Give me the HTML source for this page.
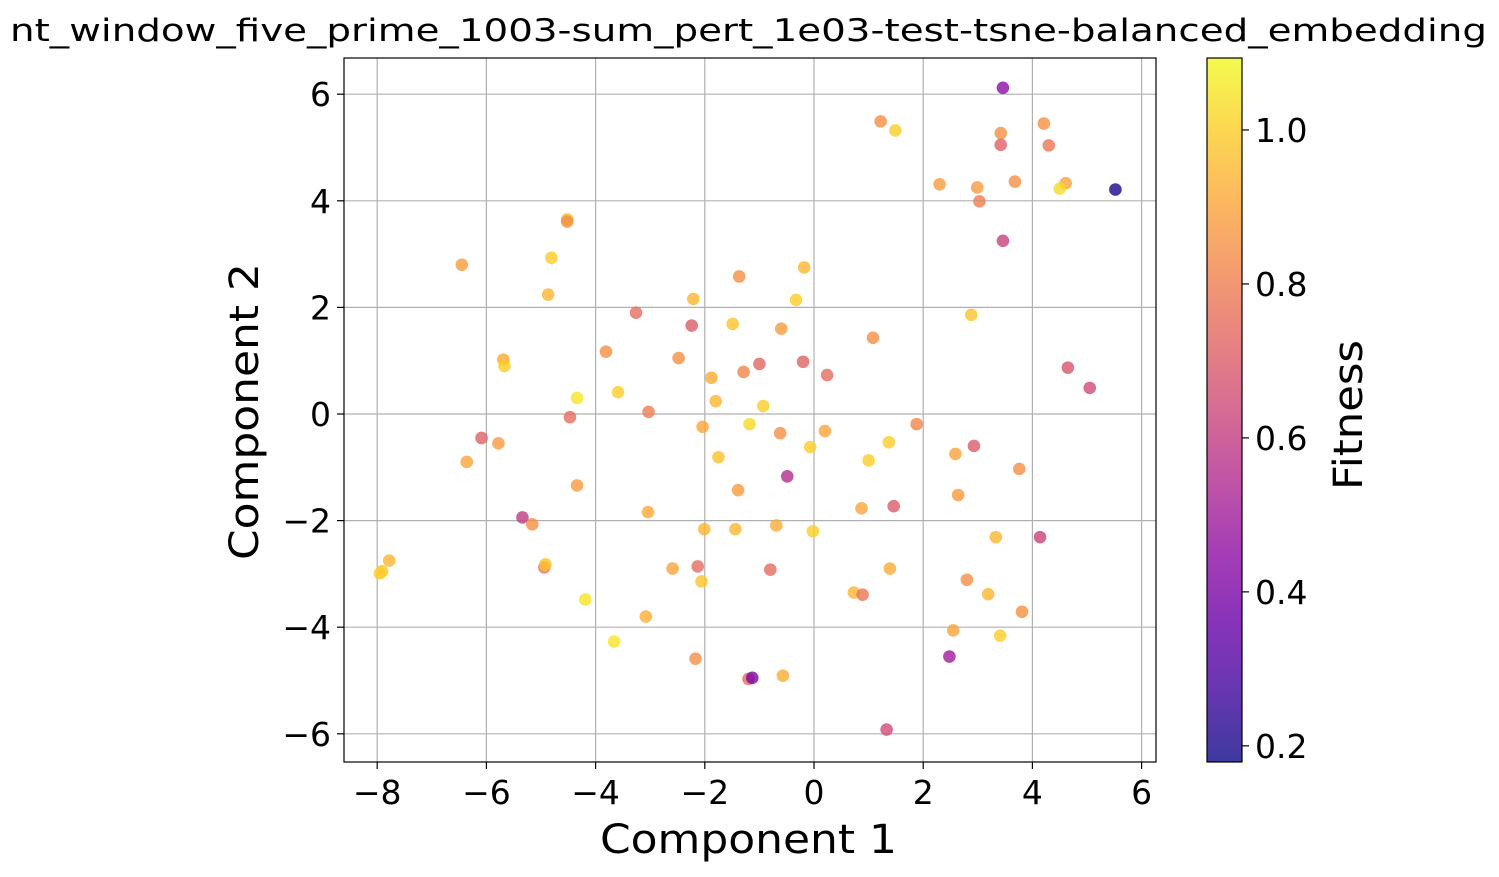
<!DOCTYPE html>
<html><head><meta charset="utf-8"><style>
html,body{margin:0;padding:0;background:#fff;}
svg text{font-family:"DejaVu Sans","Liberation Sans",sans-serif;fill:#000;}
</style></head><body>
<svg id="chart" width="1499" height="872" viewBox="0 0 1499 872" xmlns="http://www.w3.org/2000/svg">
<defs>
<linearGradient id="cbgrad" x1="0" y1="1" x2="0" y2="0">
<stop offset="0" stop-color="#0d0887"/><stop offset="0.1" stop-color="#41049d"/><stop offset="0.2" stop-color="#6a00a8"/><stop offset="0.3" stop-color="#8f0da4"/><stop offset="0.4" stop-color="#b12a90"/><stop offset="0.5" stop-color="#cc4778"/><stop offset="0.6" stop-color="#e16462"/><stop offset="0.7" stop-color="#f2844b"/><stop offset="0.8" stop-color="#fca636"/><stop offset="0.9" stop-color="#fcce25"/><stop offset="1" stop-color="#f0f921"/>
</linearGradient>
</defs>
<text x="10" y="41" font-size="31" textLength="1477" lengthAdjust="spacingAndGlyphs">nt_window_five_prime_1003-sum_pert_1e03-test-tsne-balanced_embedding</text>
<g id="grid"></g>
<g id="points"></g>
<rect x="344" y="58" width="812" height="704" fill="none" stroke="#000" stroke-width="1.2"/>
<g id="xticks"></g>
<g id="yticks"></g>
<text x="600" y="853" font-size="40" textLength="297" lengthAdjust="spacingAndGlyphs">Component 1</text>
<text transform="translate(258,560) rotate(-90)" font-size="40" textLength="297" lengthAdjust="spacingAndGlyphs">Component 2</text>
<rect x="1207" y="58" width="35" height="704" fill="url(#cbgrad)" opacity="0.8"/>
<rect x="1207" y="58" width="35" height="704" fill="none" stroke="#000" stroke-width="1.2"/>
<g id="cbticks"></g>
<text transform="translate(1362,490) rotate(-90)" font-size="40" textLength="150" lengthAdjust="spacingAndGlyphs">Fitness</text>
</svg>
<script>
const xs=[3.46,1.22,1.49,4.21,3.42,3.42,4.30,2.30,2.99,3.68,4.61,4.50,5.52,3.03,3.46,-4.52,-4.52,-6.45,-4.81,-1.37,-0.18,-4.87,-2.21,-0.33,-3.26,-2.24,-1.49,-0.60,2.88,1.08,-3.81,-2.48,-5.69,-5.67,-1.00,-1.29,-0.20,0.24,4.65,5.05,-1.88,-4.34,-3.59,-1.80,-0.93,-3.03,-4.47,-1.18,1.88,-2.04,-0.62,0.20,-6.09,-5.78,2.93,1.37,-0.07,-1.75,2.59,-6.36,1.00,3.76,-0.49,-4.34,-1.39,2.64,-3.04,0.87,1.46,-5.34,-5.16,-2.01,-1.44,-0.69,-0.02,3.33,4.14,-7.78,-7.91,-7.95,-4.94,-4.92,-2.13,-2.59,-0.80,-2.06,2.80,3.19,0.73,0.89,1.39,-4.19,-3.08,3.81,-3.66,2.55,3.41,-2.17,-1.20,-1.13,-0.57,2.48,1.33];
const ys=[6.12,5.49,5.32,5.45,5.27,5.05,5.04,4.31,4.25,4.36,4.33,4.23,4.21,3.99,3.25,3.65,3.61,2.80,2.93,2.58,2.75,2.24,2.16,2.14,1.90,1.66,1.69,1.60,1.86,1.43,1.17,1.05,1.02,0.90,0.94,0.79,0.98,0.73,0.87,0.49,0.68,0.30,0.41,0.24,0.15,0.04,-0.06,-0.19,-0.19,-0.24,-0.36,-0.32,-0.45,-0.55,-0.60,-0.53,-0.62,-0.81,-0.75,-0.90,-0.87,-1.03,-1.17,-1.34,-1.43,-1.52,-1.84,-1.77,-1.73,-1.94,-2.07,-2.16,-2.16,-2.09,-2.20,-2.31,-2.31,-2.75,-2.95,-2.99,-2.88,-2.82,-2.86,-2.90,-2.92,-3.14,-3.11,-3.38,-3.35,-3.39,-2.90,-3.48,-3.80,-3.71,-4.27,-4.06,-4.16,-4.59,-4.97,-4.95,-4.91,-4.55,-5.92];
const fitness=[0.45,0.85,1.0,0.85,0.85,0.72,0.78,0.88,0.88,0.85,0.9,1.03,0.2,0.8,0.62,0.95,0.85,0.88,1.0,0.85,0.95,0.95,0.95,1.0,0.75,0.7,0.97,0.88,0.98,0.85,0.85,0.85,0.92,1.0,0.73,0.82,0.72,0.75,0.68,0.65,0.92,1.05,1.0,0.95,1.0,0.8,0.75,1.03,0.82,0.9,0.85,0.9,0.72,0.88,0.7,1.0,1.0,0.97,0.9,0.9,1.0,0.85,0.55,0.88,0.88,0.88,0.92,0.9,0.7,0.6,0.85,0.95,0.95,0.92,1.0,0.95,0.62,0.95,0.98,1.0,0.8,0.98,0.75,0.9,0.75,0.98,0.85,0.95,0.95,0.78,0.92,1.05,0.93,0.85,1.05,0.9,1.0,0.85,0.75,0.4,0.92,0.5,0.65];
const xTicks=[-8,-6,-4,-2,0,2,4,6];
const yTicks=[-6,-4,-2,0,2,4,6];
const cbTicks=[0.2,0.4,0.6,0.8,1.0];

const NS="http://www.w3.org/2000/svg";
const sx=v=>814+v*54.6;
const sy=v=>414-v*53.3;
const cMin=0.179,cMax=1.0935;
const cy=v=>762-(v-cMin)/(cMax-cMin)*704;
const stops=["#0d0887","#41049d","#6a00a8","#8f0da4","#b12a90","#cc4778","#e16462","#f2844b","#fca636","#fcce25","#f0f921"];
function hex(h){return [1,3,5].map(i=>parseInt(h.substr(i,2),16));}
function cmap(v){let t=(v-cMin)/(cMax-cMin);t=Math.max(0,Math.min(1,t));const p=t*10,i=Math.min(9,Math.floor(p)),f=p-i;const a=hex(stops[i]),b=hex(stops[i+1]);return "rgb("+a.map((c,k)=>Math.round(c+(b[k]-c)*f)).join(",")+")";}
function mk(tag,attrs,parent){const e=document.createElementNS(NS,tag);for(const k in attrs)e.setAttribute(k,attrs[k]);parent.appendChild(e);return e;}
const grid=document.getElementById('grid'),xt=document.getElementById('xticks'),yt=document.getElementById('yticks'),pts=document.getElementById('points'),cbt=document.getElementById('cbticks');
xTicks.forEach(t=>{
  const l=mk('line',{x1:sx(t),x2:sx(t),y1:58,y2:762,stroke:'#b0b0b0','stroke-width':1.2},grid);
  
  
  const tk=mk('line',{x1:sx(t),x2:sx(t),y1:762,y2:769,stroke:'#000','stroke-width':1.2},xt);
  
  
  const tx=mk('text',{x:sx(t),y:804,'font-size':33,'text-anchor':'middle'},xt);
  tx.textContent=t<0?'\u2212'+Math.abs(t):String(t);
  
  
});
yTicks.forEach(t=>{
  const l=mk('line',{x1:344,x2:1156,y1:sy(t),y2:sy(t),stroke:'#b0b0b0','stroke-width':1.2},grid);
  
  
  const tk=mk('line',{x1:337,x2:344,y1:sy(t),y2:sy(t),stroke:'#000','stroke-width':1.2},yt);
  
  
  const tx=mk('text',{x:331,y:sy(t)+12,'font-size':33,'text-anchor':'end'},yt);
  tx.textContent=t<0?'\u2212'+Math.abs(t):String(t);
  
  
});
xs.forEach((x,i)=>{
  const c=mk('circle',{cx:sx(x),cy:sy(ys[i]),r:6.3,fill:cmap(fitness[i]),'fill-opacity':0.8},pts);
  
  
});
cbTicks.forEach(t=>{
  const tk=mk('line',{x1:1242,x2:1249,y1:cy(t),y2:cy(t),stroke:'#000','stroke-width':1.2},cbt);
  
  
  const tx=mk('text',{x:1255,y:cy(t)+12,'font-size':33},cbt);
  tx.textContent=t.toFixed(1);
  
  
});
</script>
</body></html>
